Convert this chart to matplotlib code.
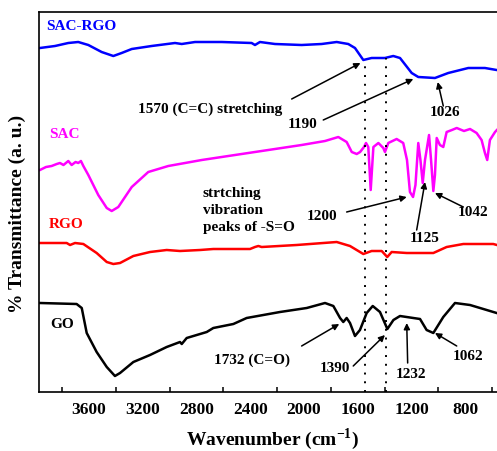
import matplotlib
matplotlib.use("Agg")
import matplotlib.pyplot as plt
from matplotlib.ticker import FixedLocator, NullFormatter

plt.rcParams['font.family'] = ['Liberation Serif', 'DejaVu Serif']
plt.rcParams['font.weight'] = 'bold'
plt.rcParams['mathtext.fontset'] = 'custom'
plt.rcParams['mathtext.bf'] = 'Liberation Serif:bold'
plt.rcParams['mathtext.rm'] = 'Liberation Serif:bold'

# FTIR spectra (wavenumber in cm-1, offset transmittance in a.u.)
sac_rgo_w = [3965, 3853, 3754, 3680, 3605, 3506, 3419, 3357, 3282, 3134, 2960, 2910,
             2811, 2613, 2390, 2365, 2328, 2216, 2018, 1869, 1757, 1671, 1621, 1559,
             1497, 1398, 1336, 1286, 1199, 1150, 1026, 927, 778, 654, 567]
sac_rgo_t = [344, 346, 349, 350, 347, 340, 336, 339, 343, 346, 349, 348,
             350, 350, 349, 347, 350, 348, 347, 348, 350, 348, 344, 332,
             334, 334, 336, 334, 319, 315, 314, 319, 324, 324, 322]

sac_w = [3965, 3920, 3878, 3840, 3816, 3790, 3754, 3729, 3700, 3680, 3660, 3642,
         3605, 3531, 3468, 3431, 3382, 3282, 3159, 3010, 2761, 2514, 2266, 2018,
         1844, 1745, 1683, 1645, 1608, 1583, 1554, 1539, 1522, 1504, 1484, 1447,
         1410, 1398, 1373, 1311, 1262, 1234, 1212, 1189, 1171, 1150, 1134, 1117,
         1100, 1070, 1055, 1038, 1026, 1013, 989, 964, 939, 900, 864, 810, 765,
         716, 679, 654, 637, 617, 579, 565]
sac_t = [222, 225, 226, 228, 229, 227, 231, 227, 230, 229, 231, 226,
         217, 197, 184, 181, 185, 205, 220, 226, 232, 237, 242, 247,
         251, 255, 250, 240, 238, 240, 245, 249, 245, 202, 245, 249,
         244, 240, 249, 253, 249, 232, 200, 195, 207, 249, 232, 209,
         232, 257, 232, 201, 217, 254, 247, 245, 260, 262, 264, 261, 263,
         259, 252, 239, 232, 252, 260, 262]

rgo_w = [3965, 3766, 3741, 3704, 3642, 3543, 3468, 3419, 3369, 3270, 3146, 3022,
         2923, 2774, 2675, 2402, 2365, 2340, 2315, 2055, 1757, 1658, 1559, 1497,
         1422, 1381, 1348, 1236, 1038, 939, 815, 592, 565]
rgo_t = [149, 149, 147, 149, 148, 139, 130, 128, 129, 136, 140, 142,
         141, 142, 143, 143, 145, 146, 145, 147, 150, 146, 138, 141,
         141, 135, 140, 139, 139, 145, 148, 148, 147]

go_w = [3965, 3692, 3654, 3617, 3543, 3468, 3407, 3369, 3270, 3146, 3022, 2923,
        2910, 2873, 2724, 2675, 2526, 2427, 2179, 1980, 1844, 1782, 1732, 1708,
        1683, 1658, 1621, 1584, 1534, 1489, 1435, 1380, 1335, 1286, 1187, 1137,
        1088, 1038, 964, 877, 765, 641, 567]
go_t = [89, 88, 84, 59, 40, 25, 16, 19, 30, 37, 45, 50,
        48, 54, 60, 64, 68, 74, 80, 84, 89, 86, 74, 70,
        74, 69, 56, 62, 79, 86, 80, 63, 72, 76, 74, 73,
        62, 59, 75, 89, 87, 82, 79]

band_lines = [1550, 1390]
tick_labels = [3600, 3200, 2800, 2400, 2000, 1600, 1200, 800]
minor_ticks = [3800, 3400, 3000, 2600, 2200, 1800, 1400, 1000, 600]

fig = plt.figure(figsize=(4.97, 4.51), dpi=100)
ax = fig.add_axes([39 / 497, 59 / 451, 461 / 497, 380 / 451])

lw = 1.8
ax.plot(sac_rgo_w, sac_rgo_t, color='#0000ff', lw=lw, solid_joinstyle='round')
ax.plot(sac_w, sac_t, color='#ff00ff', lw=lw, solid_joinstyle='round')
ax.plot(rgo_w, rgo_t, color='#ff0000', lw=lw, solid_joinstyle='round')
ax.plot(go_w, go_t, color='black', lw=lw, solid_joinstyle='round')

ax.plot([band_lines[0]] * 2, [0, 332], color='black', lw=1.4, ls=(0, (1, 3.5)))
ax.plot([band_lines[1]] * 2, [0, 334], color='black', lw=1.4, ls=(0, (1, 3.5)))

ax.set_xlim(3972, 542)
ax.set_ylim(0, 380)

ax.xaxis.set_major_locator(FixedLocator(tick_labels))
ax.xaxis.set_minor_locator(FixedLocator(minor_ticks))
ax.xaxis.set_minor_formatter(NullFormatter())
ax.tick_params(axis='x', which='major', length=0, pad=7, labelsize=12.5)
ax.tick_params(axis='x', which='minor', direction='in', length=3.6, width=1.1)
ax.set_yticks([])
for side in ['left', 'bottom', 'top']:
    ax.spines[side].set_linewidth(1.2)
ax.spines['right'].set_visible(False)

fig.text(273 / 497, (451 - 439) / 451, 'Wavenumber (cm$^{\\mathbf{-1}}$)',
         ha='center', va='center', fontsize=14, fontweight='bold')
fig.text(17.5 / 497, (451 - 214) / 451, '% Transmittance (a. u.)', rotation=90,
         ha='center', va='center', fontsize=14, fontweight='bold')

# sample names
fs = 11
ax.text(3920, 365, 'SAC-RGO', color='#0000ff', fontsize=fs, va='center')
ax.text(3898, 257, 'SAC', color='#ff00ff', fontsize=fs, va='center')
ax.text(3898, 167, 'RGO', color='#ff0000', fontsize=fs, va='center')
ax.text(3890, 68, 'GO', color='black', fontsize=fs, va='center')

ax.text(2752, 182, 'strtching\nvibration\npeaks of -S=O', fontsize=fs,
        ha='left', va='center', linespacing=1.4)

arrow = dict(arrowstyle='-|>', color='black', lw=1.1, mutation_scale=9,
             shrinkA=0, shrinkB=0)
notes = [
    ('1570 (C=C) stretching', (2700, 283), (2092, 293), (1580, 329)),
    ('1190', (2008, 267), (1857, 272), (1187, 313)),
    ('1026', (951, 279), (964, 286), (1005, 310)),
    ('1200', (1866, 175), (1683, 180), (1236, 195)),
    ('1042', (743, 180), (815, 185), (1026, 199)),
    ('1125', (1100, 154), (1162, 162), (1100, 210)),
    ('1732 (C=O)', (2387, 32), (2018, 46), (1738, 68)),
    ('1390', (1770, 24), (1634, 26), (1398, 57)),
    ('1232', (1204, 18), (1229, 29), (1236, 69)),
    ('1062', (780, 36), (864, 46), (1026, 59)),
]
for label, text_pos, tail, head in notes:
    ax.text(*text_pos, label, fontsize=fs, ha='center', va='center')
    ax.annotate('', xy=head, xytext=tail, arrowprops=arrow)

fig.savefig('out.png', dpi=100)
